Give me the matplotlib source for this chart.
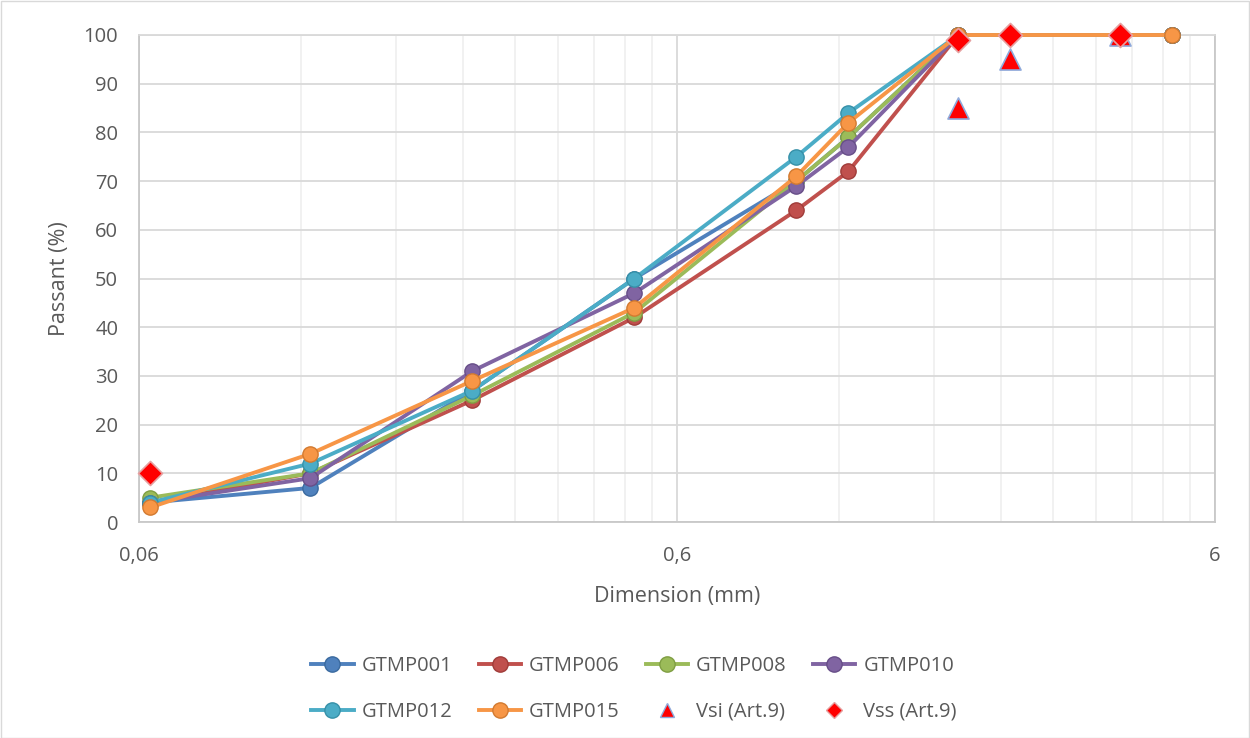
import matplotlib
matplotlib.use("Agg")
import matplotlib.pyplot as plt
from matplotlib.ticker import FixedLocator, NullFormatter, FixedFormatter
from matplotlib.lines import Line2D
from matplotlib.patches import Rectangle

plt.rcParams['font.family'] = ['Open Sans', 'DejaVu Sans']

# Sieve openings (mm)
sieves = [0.063, 0.125, 0.25, 0.5, 1.0, 1.25, 2.0, 5.0]

# Percent passing for each sample
gtmp001 = [4, 7, 27, 50, 70, 79, 100, 100]
gtmp006 = [4, 10, 25, 42, 64, 72, 100, 100]
gtmp008 = [5, 10, 26, 43, 70, 79, 100, 100]
gtmp010 = [4, 9, 31, 47, 69, 77, 100, 100]
gtmp012 = [4, 12, 27, 50, 75, 84, 100, 100]
gtmp015 = [3, 14, 29, 44, 71, 82, 100, 100]

# Specification limits (Art.9)
vsi_x = [2.0, 2.5, 4.0]
vsi_y = [85, 95, 100]
vss_x = [0.063, 2.0, 2.5, 4.0]
vss_y = [10, 99, 100, 100]

series = [
    ("GTMP001", gtmp001, "#4F81BD", "#3A6A9F"),
    ("GTMP006", gtmp006, "#C0504D", "#A03C39"),
    ("GTMP008", gtmp008, "#9BBB59", "#7F9E42"),
    ("GTMP010", gtmp010, "#8064A2", "#674E88"),
    ("GTMP012", gtmp012, "#4BACC6", "#3690A8"),
    ("GTMP015", gtmp015, "#F79646", "#D27A30"),
]

W, H = 1250, 738
fig = plt.figure(figsize=(W / 100, H / 100), dpi=100)
ax = fig.add_axes([139 / W, 1 - 522 / H, (1215 - 139) / W, (522 - 35) / H])

handles = []
for name, vals, col, edge in series:
    h, = ax.plot(sieves, vals, color=col, lw=2.8, marker='o', markersize=11,
                 markerfacecolor=col, markeredgecolor=edge, markeredgewidth=1.0,
                 label=name, zorder=3, clip_on=False)
    handles.append(h)

ax.scatter(vsi_x, vsi_y, marker='^', s=230, color='#FF0000',
           edgecolors='#8EA9DB', linewidths=1.2, zorder=4, clip_on=False)
ax.scatter(vss_x, vss_y, marker='D', s=150, color='#FF0000',
           edgecolors='#E6A0A0', linewidths=1.2, zorder=5, clip_on=False)

ax.set_xscale('log')
ax.set_xlim(0.06, 6)
ax.set_ylim(0, 100)

major_x = [0.06, 0.6, 6]
minor_x = [0.06 * k for k in range(2, 10)] + [0.6 * k for k in range(2, 10)]
ax.xaxis.set_major_locator(FixedLocator(major_x))
ax.xaxis.set_major_formatter(FixedFormatter(["0,06", "0,6", "6"]))
ax.xaxis.set_minor_locator(FixedLocator(minor_x))
ax.xaxis.set_minor_formatter(NullFormatter())
ax.set_yticks(range(0, 101, 10))

ax.grid(True, which='major', axis='both', color='#D9D9D9', lw=1.3, zorder=0)
ax.grid(True, which='minor', axis='x', color='#EEEEEE', lw=1.1, zorder=0)
ax.set_axisbelow(True)

for side in ['left', 'bottom', 'right']:
    ax.spines[side].set_color('#C8C8C8')
    ax.spines[side].set_linewidth(1.3)
ax.spines['top'].set_color('#D9D9D9')
ax.spines['top'].set_linewidth(1.3)

ax.tick_params(which='both', length=0, labelsize=14.5, labelcolor='#595959')
ax.tick_params(axis='x', pad=17)
ax.tick_params(axis='y', pad=15)

ax.set_xlabel("Dimension (mm)", fontsize=15.5, color='#595959', labelpad=15)
ax.set_ylabel("Passant (%)", fontsize=15.5, color='#595959', labelpad=10)

# Legend laid out row by row (matplotlib fills columns first)
leg_handles = handles + [
    Line2D([], [], ls='none', marker='^', markersize=10, color='#FF0000',
           markeredgecolor='#8EA9DB', markeredgewidth=1.0),
    Line2D([], [], ls='none', marker='D', markersize=8, color='#FF0000',
           markeredgecolor='#E6A0A0', markeredgewidth=1.0),
]
leg_labels = [s[0] for s in series] + ["Vsi (Art.9)", "Vss (Art.9)"]
order = [0, 4, 1, 5, 2, 6, 3, 7]
fig.legend([leg_handles[i] for i in order], [leg_labels[i] for i in order],
           ncol=4, loc='center', bbox_to_anchor=(634 / W, 1 - 689 / H),
           frameon=False, fontsize=14.5, labelcolor='#595959',
           handlelength=2.1, handletextpad=0.4, columnspacing=1.3,
           labelspacing=1.25)

# Chart area border
fig.patches.append(Rectangle((0.5 / W, 0.5 / H), 1 - 1.5 / W, 1 - 1.5 / H,
                             transform=fig.transFigure, fill=False,
                             edgecolor='#D9D9D9', lw=1.0))

fig.savefig("out.png", dpi=100)
